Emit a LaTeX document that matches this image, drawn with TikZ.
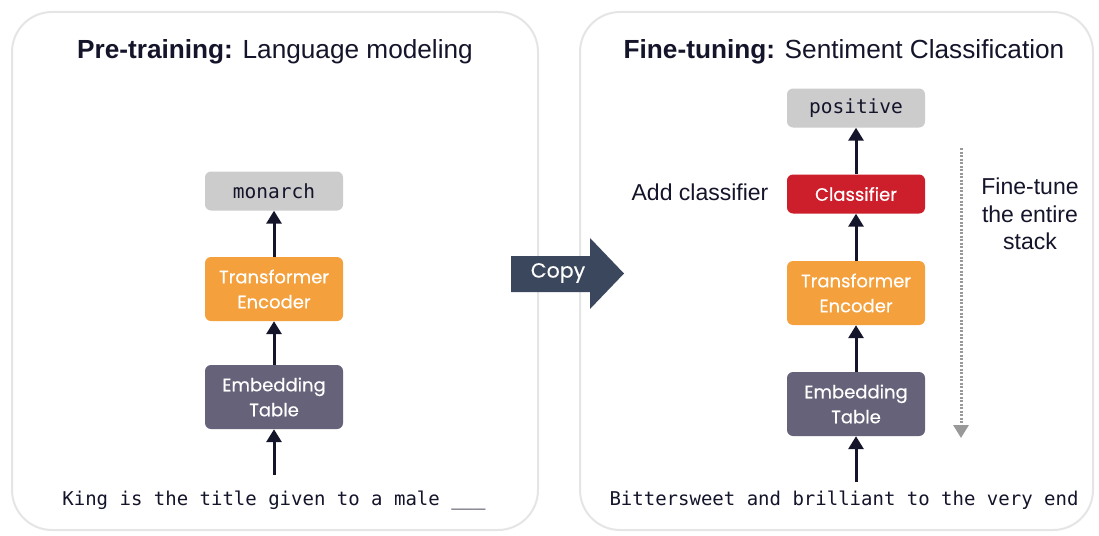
\documentclass[tikz,border=0pt]{standalone}
\usepackage{fontspec}
\setmainfont{Liberation Sans}
\newfontfamily\boxfont{Poppins}[FakeBold=0.35]
\setmonofont{DejaVu Sans Mono}
\usepackage{tikz}
\usetikzlibrary{arrows.meta,positioning}

\definecolor{outclr}{HTML}{CCCCCD}
\definecolor{encclr}{HTML}{F4A13D}
\definecolor{embclr}{HTML}{66627A}
\definecolor{clsclr}{HTML}{CC1F2B}
\definecolor{copyclr}{HTML}{3A475C}
\definecolor{inkclr}{HTML}{14142A}

\begin{document}
\begin{tikzpicture}[
  panel/.style    = {draw=black!10, line width=2pt, fill=white, rounded corners=40pt},
  title/.style    = {font=\fontsize{26.2}{30}\selectfont, text=inkclr, inner sep=0pt},
  note/.style     = {font=\fontsize{23}{27.5}\selectfont, text=inkclr, inner sep=0pt, align=center},
  layer/.style    = {rounded corners=6pt, minimum width=138pt, minimum height=64pt, inner sep=0pt,
                     align=center, text=white, font=\boxfont\fontsize{18}{25}\selectfont},
  tokenbox/.style = {fill=outclr, rounded corners=6pt, minimum width=138pt, minimum height=39pt,
                     inner sep=0pt, text=inkclr, font=\ttfamily\fontsize{19.5}{22}\selectfont},
  sentence/.style = {text=inkclr, inner sep=0pt, font=\ttfamily\fontsize{19}{22}\selectfont},
  flow/.style     = {-{Triangle[length=13pt,width=15pt]}, line width=3pt, draw=inkclr},
  tuneline/.style = {-{Triangle[length=13pt,width=15pt]}, line width=3pt, draw=black!40,
                     dash pattern=on 2pt off 1.5pt},
  x=1pt, y=-1pt,
]
  \useasboundingbox (0,0) rectangle (1099,535);

  % panels
  \draw[panel] (12,12) rectangle (538,530);
  \draw[panel] (580,12) rectangle (1093,530);

  % pre-training
  \node[title] (pretitle) at (275,52) {\textbf{Pre-training:} Language modeling};
  \node[tokenbox] (monarch) at (274,191) {monarch};
  \node[layer, fill=encclr] (encL) at (274,289) {Transformer\\Encoder};
  \node[layer, fill=embclr] (embL) at (274,397) {Embedding\\Table};
  \node[sentence] (inL) at (274,500) {King is the title given to a male \_\_\_};
  \coordinate (inLtop) at (274,475);
  \draw[flow] (inLtop) -- (embL);
  \draw[flow] (embL) -- (encL);
  \draw[flow] (encL) -- (monarch);

  % copy arrow
  \fill[copyclr] (511,256) -- (590,256) -- (590,238) -- (624,273.5) -- (590,309) -- (590,292) -- (511,292) -- cycle;
  \node[inner sep=0pt, text=white, font=\boxfont\fontsize{20.5}{24}\selectfont] (copy) at (558,273) {Copy};

  % fine-tuning
  \node[title] (ftitle) at (844,52) {\textbf{Fine-tuning:} Sentiment Classification};
  \node[tokenbox] (positive) at (856,108) {positive};
  \node[layer, fill=clsclr, minimum height=39pt] (cls) at (856,194) {Classifier};
  \node[layer, fill=encclr] (encR) at (856,293) {Transformer\\Encoder};
  \node[layer, fill=embclr] (embR) at (856,404) {Embedding\\Table};
  \node[sentence] (inR) at (844,500) {Bittersweet and brilliant to the very end};
  \coordinate (inRtop) at (856,482);
  \draw[flow] (inRtop) -- (embR);
  \draw[flow] (embR) -- (encR);
  \draw[flow] (encR) -- (cls);
  \draw[flow] (cls) -- (positive);

  \node[note] (addcls) at (700,192) {Add classifier};
  \node[note] (tune) at (1030,214) {Fine-tune\\the entire\\stack};
  \coordinate (tunetop) at (961,148);
  \coordinate (tunebot) at (961,438);
  \draw[tuneline] (tunetop) -- (tunebot);
\end{tikzpicture}
\end{document}
